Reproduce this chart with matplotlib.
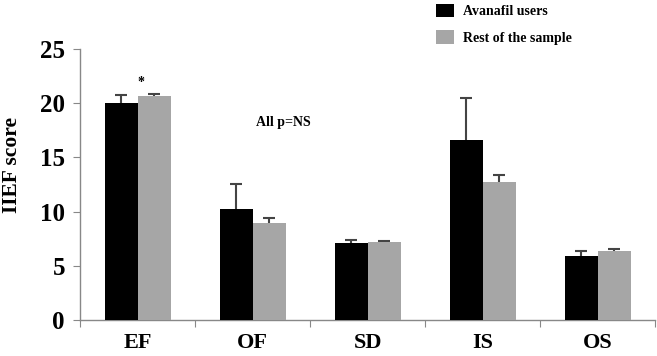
import matplotlib
matplotlib.use("Agg")
import matplotlib.pyplot as plt
import numpy as np
from matplotlib.patches import Patch

categories = ["EF", "OF", "SD", "IS", "OS"]
avanafil = [20.05, 10.25, 7.15, 16.65, 5.95]
avanafil_err = [0.75, 2.35, 0.28, 3.85, 0.38]
rest = [20.68, 8.98, 7.22, 12.78, 6.37]
rest_err = [0.22, 0.45, 0.12, 0.62, 0.15]
yticks = [0, 5, 10, 15, 20, 25]

serif = ["Liberation Serif", "DejaVu Serif"]
plt.rcParams["font.family"] = serif
plt.rcParams["font.weight"] = "bold"

fig = plt.figure(figsize=(6.57, 3.56), dpi=100)
ax = fig.add_axes([0.122, 0.101, 0.875, 0.761])

x = np.arange(len(categories))
w = 0.287
cap = 0.05
for xs, vals, errs, col in [(x - w / 2, avanafil, avanafil_err, "black"),
                            (x + w / 2, rest, rest_err, "#a6a6a6")]:
    vals = np.array(vals)
    errs = np.array(errs)
    ax.bar(xs, vals, w, color=col, zorder=3)
    ax.vlines(xs, vals, vals + errs, color="#444444", linewidth=1.5, zorder=2)
    ax.hlines(vals + errs, xs - cap, xs + cap, color="#444444", linewidth=1.5, zorder=2)

ax.set_xlim(-0.5, 4.5)
ax.set_ylim(0, 25)
ax.set_yticks(yticks)
ax.set_yticklabels([str(t) for t in yticks], fontsize=18, fontweight="bold")
ax.set_xticks(np.arange(-0.5, 5, 1))
ax.set_xticklabels([])
ax.set_xticks(x, minor=True)
ax.set_xticklabels(categories, minor=True, fontsize=16, fontweight="bold")
ax.tick_params(axis="x", which="minor", length=0, pad=9)
ax.tick_params(axis="x", which="major", length=5, color="#888888", direction="out")
ax.tick_params(axis="y", length=5, color="#888888", direction="out", pad=6)

for s in ["top", "right"]:
    ax.spines[s].set_visible(False)
for s in ["left", "bottom"]:
    ax.spines[s].set_color("#888888")
    ax.spines[s].set_linewidth(1.0)

ax.set_ylabel("IIEF score", fontsize=15.5, fontweight="bold")
ax.yaxis.set_label_coords(-0.102, 0.572)

ax.text(1.27, 18.2, "All p=NS", fontsize=10, fontweight="bold", ha="center", va="center")
ax.text(0.03, 21.9, "*", fontsize=10, fontweight="bold", ha="center", va="center")

handles = [Patch(facecolor="black", label="Avanafil users"),
           Patch(facecolor="#a6a6a6", label="Rest of the sample")]
fig.legend(handles=handles, loc="upper left", bbox_to_anchor=(0.645, 1.025),
           frameon=False, prop={"family": serif, "weight": "bold", "size": 10},
           handlelength=1.3, handleheight=1.15, labelspacing=0.85, handletextpad=0.6)

fig.savefig("out.png", dpi=100)
